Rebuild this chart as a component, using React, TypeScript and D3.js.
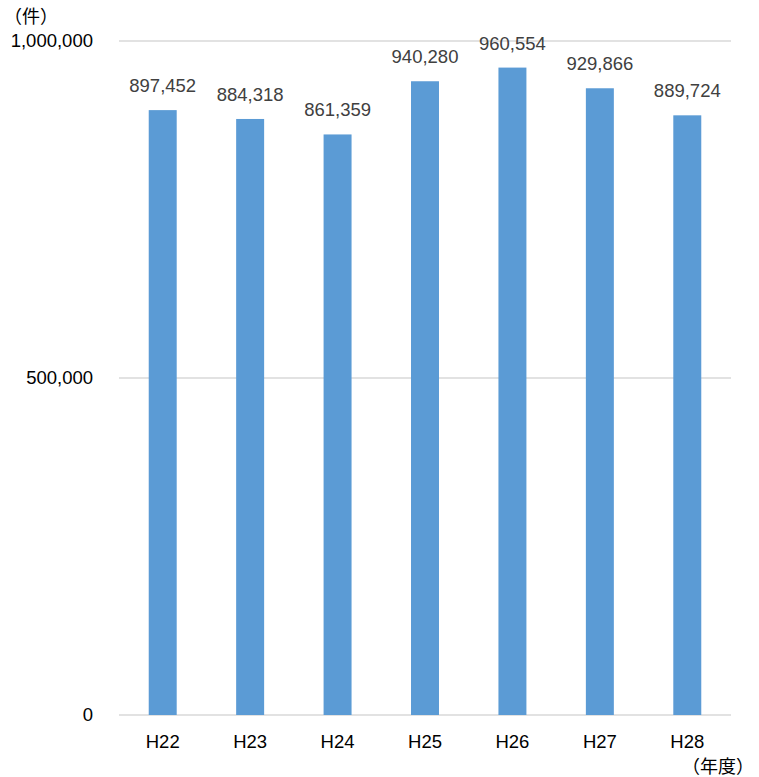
import React from "react";
import * as d3 from "d3";

const categories = ["H22", "H23", "H24", "H25", "H26", "H27", "H28"];
const values = [897452, 884318, 861359, 940280, 960554, 929866, 889724];
const yTicks = [0, 500000, 1000000];

const W = 759;
const H = 777;
const margin = { top: 41, right: 28, bottom: 62, left: 119 };
const font = "'Liberation Sans', Arial, sans-serif";
const jpFont = "'Noto Sans CJK JP', sans-serif";

const App: React.FC = () => {
  const x = d3
    .scaleBand<string>()
    .domain(categories)
    .range([margin.left, W - margin.right])
    .paddingInner(0.68)
    .paddingOuter(0.34);

  const y = d3
    .scaleLinear()
    .domain([0, 1000000])
    .range([H - margin.bottom, margin.top]);

  const fmt = d3.format(",");

  return (
    <svg
      width={W}
      height={H}
      style={{ position: "absolute", left: 0, top: 0, background: "#fff" }}
      fontFamily={font}
    >
      {/* グリッド */}
      {yTicks.map((t) => (
        <line
          key={t}
          x1={margin.left}
          x2={W - margin.right}
          y1={y(t)}
          y2={y(t)}
          stroke="#d9d9d9"
          strokeWidth={1.5}
        />
      ))}
      {yTicks.map((t) => (
        <text
          key={"l" + t}
          x={93}
          y={y(t)}
          dy="0.35em"
          textAnchor="end"
          fontSize={18.5}
          fill="#000"
        >
          {fmt(t)}
        </text>
      ))}
      {/* バー */}
      {values.map((v, i) => (
        <rect
          key={i}
          x={x(categories[i])!}
          y={y(v)}
          width={x.bandwidth()}
          height={y(0) - y(v)}
          fill="#5b9bd5"
        />
      ))}
      {values.map((v, i) => (
        <text
          key={"v" + i}
          x={x(categories[i])! + x.bandwidth() / 2}
          y={y(v) - 18}
          textAnchor="middle"
          fontSize={18.5}
          fill="#404040"
        >
          {fmt(v)}
        </text>
      ))}
      {categories.map((c) => (
        <text
          key={c}
          x={x(c)! + x.bandwidth() / 2}
          y={748}
          textAnchor="middle"
          fontSize={18.5}
          fill="#000"
        >
          {c}
        </text>
      ))}
      <text x={4} y={23} fontSize={18} fill="#000" fontFamily={jpFont}>
        （件）
      </text>
      <text x={754} y={773} textAnchor="end" fontSize={18} fill="#000" fontFamily={jpFont}>
        （年度）
      </text>
    </svg>
  );
};

export default App;
